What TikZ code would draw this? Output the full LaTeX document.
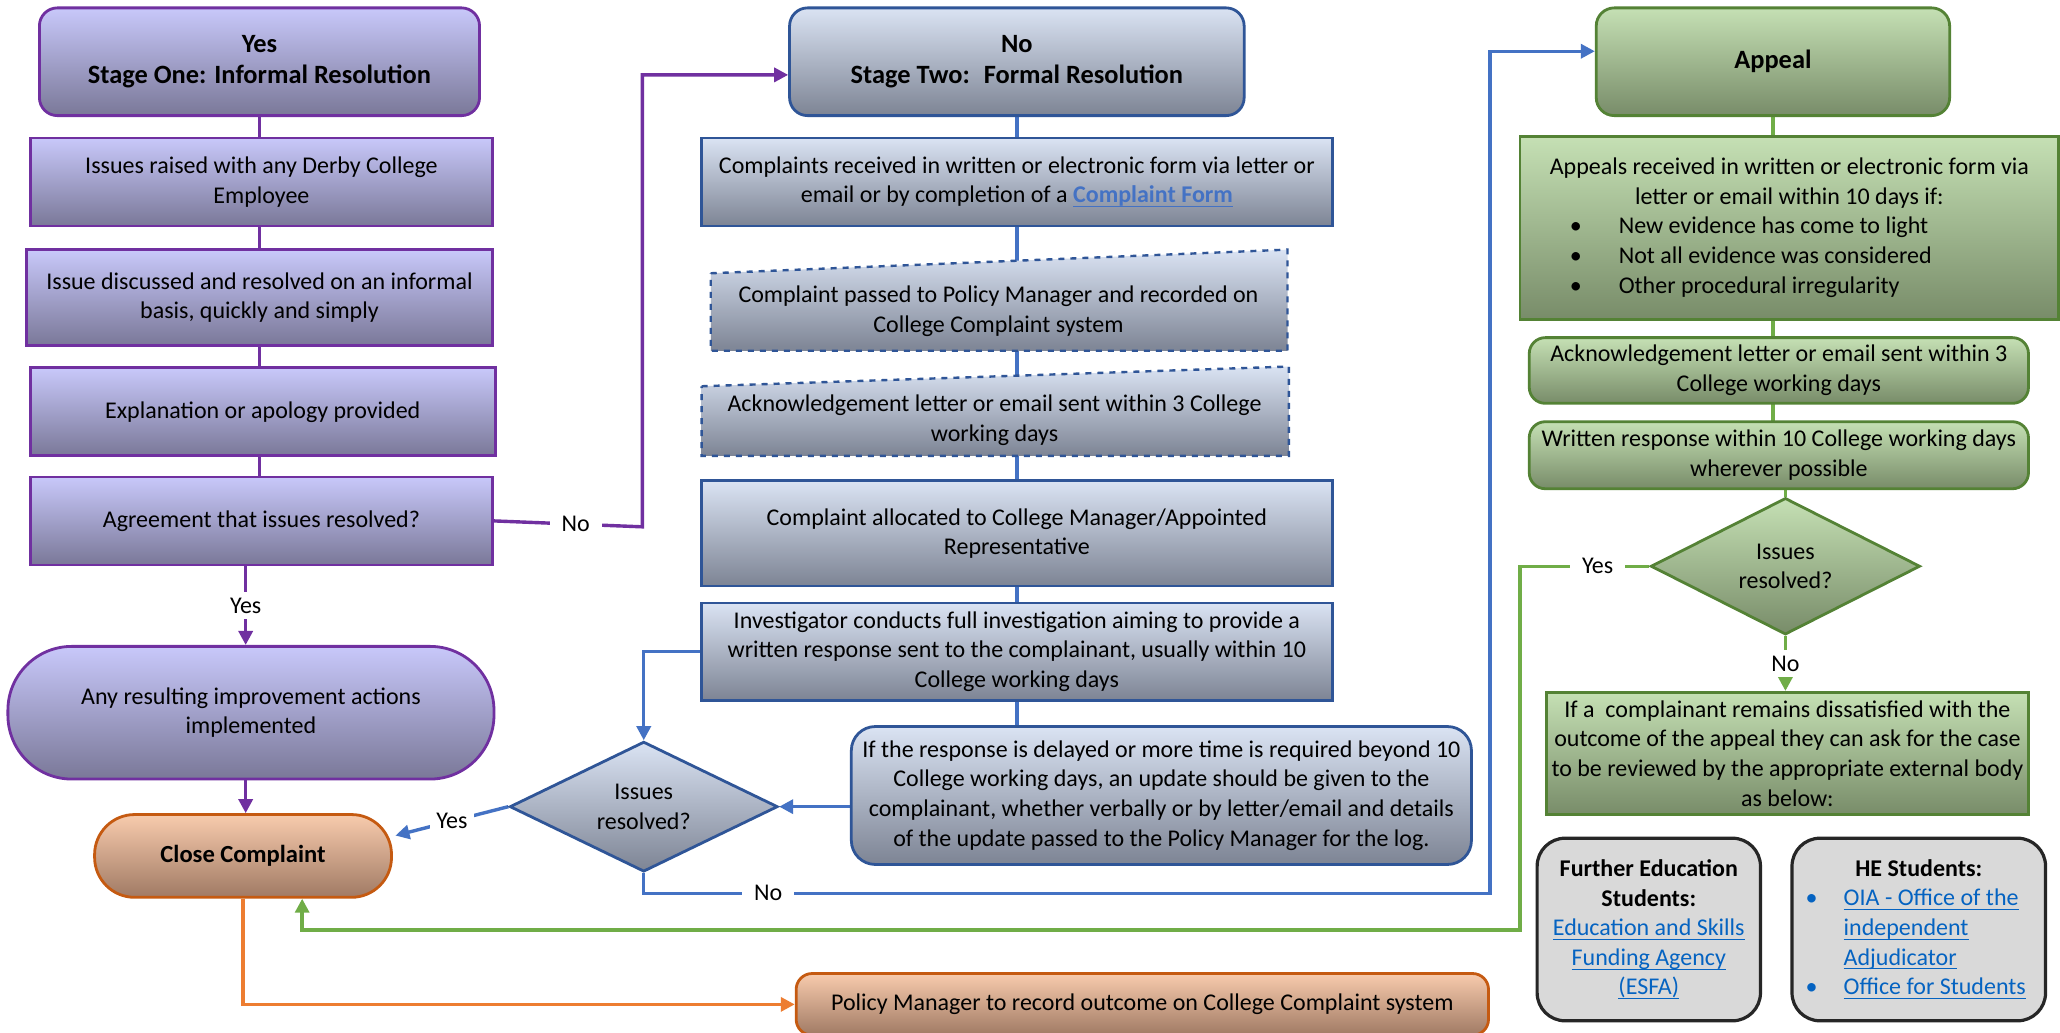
\documentclass[tikz,border=0pt]{standalone}
\usepackage{fontspec}
\setmainfont{Carlito}
\usetikzlibrary{shapes.geometric,arrows.meta,calc}
\pgfdeclarelayer{background}
\pgfsetlayers{background,main}
\definecolor{purpB}{RGB}{112,48,160}
\definecolor{purpT}{RGB}{200,200,250}
\definecolor{purpBot}{RGB}{122,120,152}
\definecolor{blueB}{RGB}{47,85,151}
\definecolor{blueT}{RGB}{218,227,243}
\definecolor{blueBot}{RGB}{125,132,148}
\definecolor{blueL}{RGB}{68,114,196}
\definecolor{greenB}{RGB}{84,130,53}
\definecolor{greenT}{RGB}{197,224,180}
\definecolor{greenBot}{RGB}{120,140,105}
\definecolor{greenL}{RGB}{112,173,71}
\definecolor{orB}{RGB}{197,90,17}
\definecolor{orT}{RGB}{248,203,173}
\definecolor{orBot}{RGB}{160,122,100}
\definecolor{orL}{RGB}{237,125,49}
\definecolor{greyF}{RGB}{217,217,217}
\definecolor{linkC}{RGB}{5,99,193}
\newcommand\ulnk[2]{{\color{#1}\setbox0\hbox{#2}\rlap{\rule[-2.2pt]{\wd0}{0.6pt}}\box0}}
\newcommand\bx[7]{\node[#1, minimum width={(#4-#3)*0.6569pt}, minimum height={(#6-#5)*0.6569pt}] (#2) at ({(#3+#4)/2},{(#5+#6)/2}) {#7};}
\begin{document}
\begin{tikzpicture}[x=0.6569pt,y=-0.6569pt,
 txt/.style={font=\fontsize{12}{14.8}\selectfont, align=center, inner sep=0pt},
 ttl/.style={font=\fontsize{13.2}{15.8}\selectfont\bfseries},
 pbox/.style={txt, draw=purpB, line width=1.4pt, top color=purpT, bottom color=purpBot},
 bbox/.style={txt, draw=blueB, line width=1.4pt, top color=blueT, bottom color=blueBot},
 gnbox/.style={txt, draw=greenB, line width=1.4pt, top color=greenT, bottom color=greenBot},
 obox/.style={txt, draw=orB, line width=1.4pt, top color=orT, bottom color=orBot},
 greybox/.style={txt, draw=black!85, line width=1.6pt, fill=greyF, rounded corners=14pt},
 rc/.style={rounded corners=9pt},
 pline/.style={draw=purpB, line width=1.7pt},
 bline/.style={draw=blueL, line width=1.7pt},
 gline/.style={draw=greenL, line width=1.7pt},
 oline/.style={draw=orL, line width=1.7pt},
 tip/.style={-{Triangle[length=7pt,width=7pt]}},
 lbl/.style={txt, fill=white, inner xsep=6pt, inner ysep=3pt},
 dashbox/.style={draw=blueB, line width=1.2pt, dashed, top color=blueT, bottom color=blueBot}
]
\begin{pgfonlayer}{background}
\fill[white] (0,0) rectangle (1568,786);
\end{pgfonlayer}
\useasboundingbox (0,0) rectangle (1568,786);
% ---------------- purple column
\bx{pbox,rc,ttl}{s1}{30}{365}{6}{88}{Yes\\Stage One: Informal Resolution}
\bx{pbox}{p2}{23}{375}{105}{172}{Issues raised with any Derby College\\Employee}
\bx{pbox}{p3}{20}{375}{190}{263}{Issue discussed and resolved on an informal\\basis, quickly and simply}
\bx{pbox}{p4}{23}{377}{280}{347}{Explanation or apology provided}
\bx{pbox}{p5}{23}{375}{363}{430}{Agreement that issues resolved?}
\bx{pbox,rounded corners=32pt}{oval}{6}{376}{492}{593}{Any resulting improvement actions\\implemented}
\bx{obox,rounded corners=20pt,font=\fontsize{12.3}{14.8}\selectfont\bfseries}{close}{72}{298}{620}{683}{Close Complaint}
\bx{obox,rounded corners=8pt}{pm}{606}{1133}{741}{788}{Policy Manager to record outcome on College Complaint system}
% ---------------- blue column
\bx{bbox,rc,ttl}{s2}{601}{947}{6}{88}{No\\Stage Two:~ Formal Resolution}
\bx{bbox}{c1}{534}{1014}{105}{172}{Complaints received in written or electronic form via letter or\\email or by completion of a \textbf{\ulnk{blueL}{Complaint Form}}}
\path[dashbox] (541,208) -- (980,190) -- (980,267) -- (541,267) -- cycle;
\node[txt] (c2) at (760,237) {Complaint passed to Policy Manager and recorded on\\College Complaint system};
\path[dashbox] (534,294) -- (981,279) -- (981,347) -- (534,347) -- cycle;
\node[txt] (c3) at (757,320) {Acknowledgement letter or email sent within 3 College\\working days};
\bx{bbox}{c4}{534}{1014}{366}{446}{Complaint allocated to College Manager/Appointed\\Representative}
\bx{bbox}{inv}{534}{1014}{459}{533}{Investigator conducts full investigation aiming to provide a\\written response sent to the complainant, usually within 10\\College working days}
\bx{bbox,rounded corners=12pt}{upd}{648}{1120}{553}{658}{If the response is delayed or more time is required beyond 10\\College working days, an update should be given to the\\complainant, whether verbally or by letter/email and details\\of the update passed to the Policy Manager for the log.}
\node[bbox, diamond, aspect=2, minimum width={204*0.6569pt}, minimum height={99*0.6569pt}] (d1) at (490,614) {Issues\\resolved?};
% ---------------- green column
\bx{gnbox,rc,ttl}{ap}{1215}{1484}{6}{88}{Appeal}
\bx{gnbox}{ar}{1157}{1567}{104}{243}{\begin{tabular}{@{}l@{}l@{}}
\multicolumn{2}{c}{Appeals received in written or electronic form via}\\
\multicolumn{2}{c}{letter or email within 10 days if:}\\
\makebox[40.5pt][l]{\hspace*{16pt}\textbullet} & New evidence has come to light\\
\makebox[40.5pt][l]{\hspace*{16pt}\textbullet} & Not all evidence was considered\\
\makebox[40.5pt][l]{\hspace*{16pt}\textbullet} & Other procedural irregularity
\end{tabular}}
\bx{gnbox,rounded corners=8pt}{ack}{1164}{1544}{257}{307}{Acknowledgement letter or email sent within 3\\College working days}
\bx{gnbox,rounded corners=8pt}{wr}{1164}{1544}{321}{372}{Written response within 10 College working days\\wherever possible}
\node[gnbox, diamond, aspect=2, minimum width={205*0.6569pt}, minimum height={104*0.6569pt}] (d2) at (1359,431) {Issues\\resolved?};
\bx{gnbox}{ext}{1177}{1544}{527}{620}{If a~ complainant remains dissatisfied with the\\outcome of the appeal they can ask for the case\\to be reviewed by the appropriate external body\\as below:}
\bx{greybox}{fe}{1170}{1340}{638}{777}{\textbf{Further Education}\\\textbf{Students:}\\\ulnk{linkC}{Education and Skills}\\\ulnk{linkC}{Funding Agency}\\\ulnk{linkC}{(ESFA)}}
\bx{greybox}{he}{1364}{1557}{638}{777}{\begin{tabular}{@{}l@{}l@{}}
\multicolumn{2}{c}{\textbf{HE Students:}}\\
\makebox[16pt][l]{\hspace*{-3pt}\textcolor{linkC}{\textbullet}} & \ulnk{linkC}{OIA - Office of the}\\
 & \ulnk{linkC}{independent}\\
 & \ulnk{linkC}{Adjudicator}\\
\makebox[16pt][l]{\hspace*{-3pt}\textcolor{linkC}{\textbullet}} & \ulnk{linkC}{Office for Students}
\end{tabular}}
% ---------------- connectors
\coordinate (xP) at (187,0);
\coordinate (xG) at (230,0);
\begin{pgfonlayer}{background}
\draw[pline] (s1.south) -- (s1.south |- p5.center);
\draw[pline,tip] (p5.south -| xP) -- node[lbl]{Yes} (oval.north -| xP);
\draw[pline,tip] (oval.south -| xP) -- (close.north -| xP);
\draw[pline,tip] (p5.east) -- node[lbl,pos=0.55]{No} (489,401) -- (489,57) -- ($(s2.west)+(0,10)$);
\draw[bline] (s2.south) -- (s2.south |- upd.north);
\draw[bline,tip] (inv.west) -- (inv.west -| d1.north) -- (d1.north);
\draw[bline,tip] (upd.west |- d1.east) -- (d1.east);
\draw[bline,tip] (d1.west) -- node[lbl,inner xsep=3pt]{Yes} (301,636);
\draw[bline,tip] (d1.south) -- (490,680) -- node[lbl,pos=0.147]{No} (1134,680) -- (1134,39) -- ($(ap.west)+(0,-8)$);
\draw[gline] (ap.south) -- (ap.south |- wr.center);
\draw[gline] (wr.south -| d2.north) -- (d2.north);
\draw[gline,tip] (d2.west) -- node[lbl,pos=0.4]{Yes} (1157,431) -- (1157,708) -- (230,708) -- (close.south -| xG);
\draw[gline,tip] (d2.south) -- node[lbl]{No} (ext.north -| d2.south);
\draw[oline,tip] (close.south) -- (close.south |- pm.west) -- (pm.west);
\end{pgfonlayer}
\end{tikzpicture}
\end{document}
